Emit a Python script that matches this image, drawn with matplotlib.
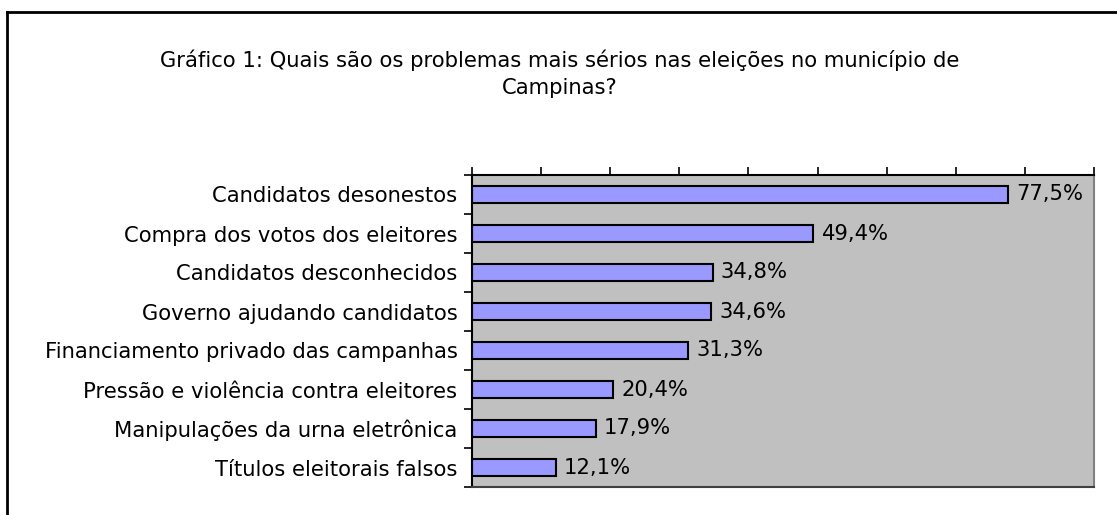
import matplotlib
matplotlib.use("Agg")
import matplotlib.pyplot as plt
from matplotlib.lines import Line2D
import numpy as np

plt.rcParams['font.family'] = ['DejaVu Sans']

categories = [
    "Candidatos desonestos",
    "Compra dos votos dos eleitores",
    "Candidatos desconhecidos",
    "Governo ajudando candidatos",
    "Financiamento privado das campanhas",
    "Pressão e violência contra eleitores",
    "Manipulações da urna eletrônica",
    "Títulos eleitorais falsos",
]
values = [77.5, 49.4, 34.8, 34.6, 31.3, 20.4, 17.9, 12.1]
value_labels = ["77,5%", "49,4%", "34,8%", "34,6%", "31,3%", "20,4%", "17,9%", "12,1%"]
title = "Gráfico 1: Quais são os problemas mais sérios nas eleições no município de\nCampinas?"

W, H = 1117, 515
FS = 15.2
fig = plt.figure(figsize=(W / 100, H / 100), dpi=100)
fig.patch.set_facecolor("white")

ax = fig.add_axes([472 / W, 1 - 487 / H, (1094 - 472) / W, (487 - 175) / H])
ax.set_facecolor("#C0C0C0")

y = np.arange(len(categories))
ax.barh(y, values, height=0.42, color="#9999FF", edgecolor="black", linewidth=1.5)

ax.set_xlim(0, 90)
ax.set_ylim(len(categories) - 0.5, -0.5)

ax.xaxis.tick_top()
ax.set_xticks(np.arange(0, 91, 10))
ax.set_xticklabels([])
ax.tick_params(axis="x", direction="out", length=6, width=1.2, color="black")

ax.set_yticks(y)
ax.set_yticklabels(categories, fontsize=FS)
ax.set_yticks(np.arange(-0.5, len(categories), 1), minor=True)
ax.tick_params(axis="y", which="major", length=0, pad=10.5)
ax.tick_params(axis="y", which="minor", direction="out", length=6, width=1.2, color="black")

for s in ["top", "left"]:
    ax.spines[s].set_color("black")
    ax.spines[s].set_linewidth(1.5)
ax.spines["bottom"].set_color("#404040")
ax.spines["bottom"].set_linewidth(1.5)
ax.spines["right"].set_color("#808080")
ax.spines["right"].set_linewidth(1.5)

for yi, v, lab in zip(y, values, value_labels):
    ax.annotate(lab, xy=(v, yi), xytext=(6, 0), textcoords="offset points",
                va="center", ha="left", fontsize=FS)

fig.text(560 / W, 1 - 74 / H, title, ha="center", va="center", fontsize=FS,
         linespacing=1.45)

fig.add_artist(Line2D([7 / W, 7 / W], [0, 1 - 12 / H], color="black", linewidth=2,
                      transform=fig.transFigure))
fig.add_artist(Line2D([7 / W, 1], [1 - 12 / H, 1 - 12 / H], color="black", linewidth=2,
                      transform=fig.transFigure))

fig.savefig("out.png", dpi=100)
